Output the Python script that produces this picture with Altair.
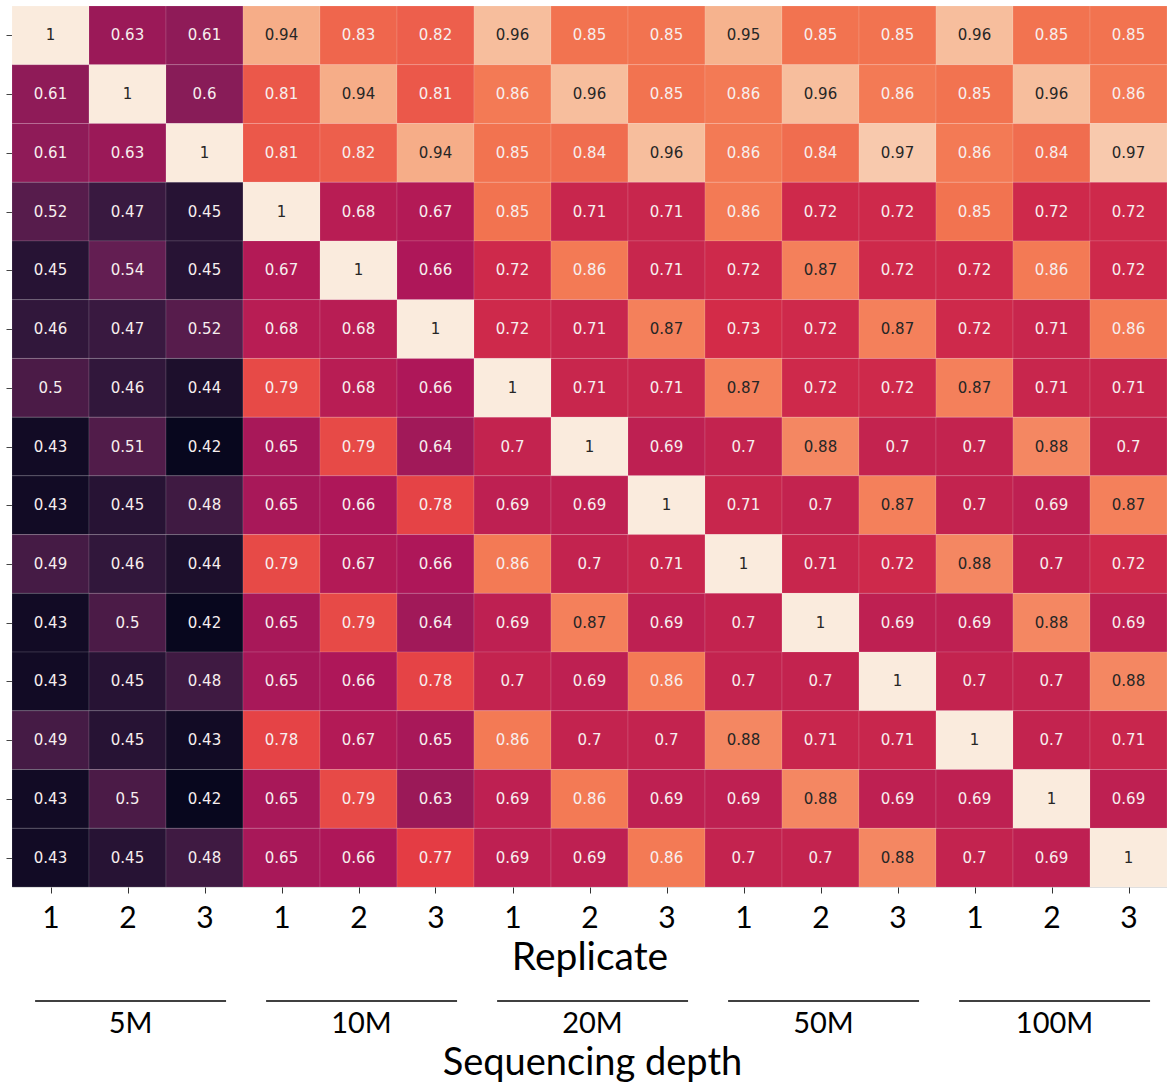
import altair as alt
import pandas as pd

replicates = ["1", "2", "3"] * 5
depths = ["5M", "10M", "20M", "50M", "100M"]

corr_rows = [
    [1, 0.63, 0.61, 0.94, 0.83, 0.82, 0.96, 0.85, 0.85, 0.95, 0.85, 0.85, 0.96, 0.85, 0.85],
    [0.61, 1, 0.6, 0.81, 0.94, 0.81, 0.86, 0.96, 0.85, 0.86, 0.96, 0.86, 0.85, 0.96, 0.86],
    [0.61, 0.63, 1, 0.81, 0.82, 0.94, 0.85, 0.84, 0.96, 0.86, 0.84, 0.97, 0.86, 0.84, 0.97],
    [0.52, 0.47, 0.45, 1, 0.68, 0.67, 0.85, 0.71, 0.71, 0.86, 0.72, 0.72, 0.85, 0.72, 0.72],
    [0.45, 0.54, 0.45, 0.67, 1, 0.66, 0.72, 0.86, 0.71, 0.72, 0.87, 0.72, 0.72, 0.86, 0.72],
    [0.46, 0.47, 0.52, 0.68, 0.68, 1, 0.72, 0.71, 0.87, 0.73, 0.72, 0.87, 0.72, 0.71, 0.86],
    [0.5, 0.46, 0.44, 0.79, 0.68, 0.66, 1, 0.71, 0.71, 0.87, 0.72, 0.72, 0.87, 0.71, 0.71],
    [0.43, 0.51, 0.42, 0.65, 0.79, 0.64, 0.7, 1, 0.69, 0.7, 0.88, 0.7, 0.7, 0.88, 0.7],
    [0.43, 0.45, 0.48, 0.65, 0.66, 0.78, 0.69, 0.69, 1, 0.71, 0.7, 0.87, 0.7, 0.69, 0.87],
    [0.49, 0.46, 0.44, 0.79, 0.67, 0.66, 0.86, 0.7, 0.71, 1, 0.71, 0.72, 0.88, 0.7, 0.72],
    [0.43, 0.5, 0.42, 0.65, 0.79, 0.64, 0.69, 0.87, 0.69, 0.7, 1, 0.69, 0.69, 0.88, 0.69],
    [0.43, 0.45, 0.48, 0.65, 0.66, 0.78, 0.7, 0.69, 0.86, 0.7, 0.7, 1, 0.7, 0.7, 0.88],
    [0.49, 0.45, 0.43, 0.78, 0.67, 0.65, 0.86, 0.7, 0.7, 0.88, 0.71, 0.71, 1, 0.7, 0.71],
    [0.43, 0.5, 0.42, 0.65, 0.79, 0.63, 0.69, 0.86, 0.69, 0.69, 0.88, 0.69, 0.69, 1, 0.69],
    [0.43, 0.45, 0.48, 0.65, 0.66, 0.77, 0.69, 0.69, 0.86, 0.7, 0.7, 0.88, 0.7, 0.69, 1],
]

# seaborn "rocket" colormap stops
rocket_pos = [0, 1 / 12, 3 / 12, 5 / 12, 7 / 12, 9 / 12, 11 / 12, 1]
rocket_col = ["#03051a", "#35193e", "#701f57", "#ad1759", "#e13342", "#f37651", "#f6b48f", "#faebdd"]

n = len(corr_rows)
vmin = min(min(r) for r in corr_rows) - 0.005
vmax = max(max(r) for r in corr_rows)
color_domain = [vmin + p * (vmax - vmin) for p in rocket_pos]

records = []
for i, row in enumerate(corr_rows):
    for j, v in enumerate(row):
        records.append({
            "row": i, "col": j, "x": j, "x2": j + 1, "y": i, "y2": i + 1,
            "xc": j + 0.5, "yc": i + 0.5, "value": v,
            "label": f"{v:g}", "dark": v >= 0.865,
        })
df = pd.DataFrame(records)

groups = pd.DataFrame({
    "depth": depths,
    "start": [3 * g + 0.3 for g in range(len(depths))],
    "end": [3 * g + 2.78 for g in range(len(depths))],
    "center": [3 * g + 1.5 for g in range(len(depths))],
})

W, H = 1155, 881
FONT = "Lato"

xscale = alt.Scale(domain=[0, n], nice=False, zero=False)
yscale = alt.Scale(domain=[0, n], nice=False, zero=False, reverse=True)
tick_vals = [k + 0.5 for k in range(n)]

base = alt.Chart(df)

heat = base.mark_rect(stroke="white", strokeOpacity=0.12, strokeWidth=1).encode(
    x=alt.X("x:Q", scale=xscale,
            axis=alt.Axis(values=tick_vals, labelExpr="floor(datum.value) % 3 + 1",
                          title="Replicate", domain=False, grid=False,
                          tickSize=6, tickColor="#333333", tickWidth=1,
                          labelFont=FONT, labelFontSize=30, labelColor="black",
                          labelPadding=10, labelFlush=False,
                          titleFont=FONT, titleFontSize=39, titleFontWeight="normal",
                          titleColor="black", titlePadding=5)),
    x2="x2:Q",
    y=alt.Y("y:Q", scale=yscale,
            axis=alt.Axis(values=tick_vals, labels=False, title=None, domain=False,
                          grid=False, tickSize=6, tickColor="#444444", tickWidth=1)),
    y2="y2:Q",
    color=alt.Color("value:Q", scale=alt.Scale(domain=color_domain, range=rocket_col,
                                               interpolate="rgb"), legend=None),
)

text = base.mark_text(font="DejaVu Sans", fontSize=15, baseline="middle", align="center").encode(
    x=alt.X("xc:Q", scale=xscale),
    y=alt.Y("yc:Q", scale=yscale),
    text="label:N",
    color=alt.condition("datum.dark", alt.value("#262626"), alt.value("#f7eeee")),
)

group_lines = alt.Chart(groups).mark_rule(color="black", strokeWidth=1.5).encode(
    x=alt.X("start:Q", scale=xscale),
    x2="end:Q",
    y=alt.value(H + 114),
)

group_labels = alt.Chart(groups).mark_text(font=FONT, fontSize=29, baseline="middle",
                                           align="center", color="black", dx=3).encode(
    x=alt.X("center:Q", scale=xscale),
    y=alt.value(H + 137),
    text="depth:N",
)

depth_title = alt.Chart(groups).transform_aggregate(count="count()").mark_text(
    font=FONT, fontSize=38, baseline="alphabetic", align="center", color="black"
).encode(
    x=alt.value(W / 2 + 3),
    y=alt.value(H + 188),
    text=alt.value("Sequencing depth"),
)

chart = alt.layer(heat, text, group_lines, group_labels, depth_title).properties(
    width=W, height=H,
    padding={"left": 12, "top": 6, "right": 0, "bottom": 203},
    autosize=alt.AutoSizeParams(type="none"),
).configure_view(stroke=None).configure(background="white")

chart.save("out.html", embed_options={"renderer": "svg", "actions": False})
